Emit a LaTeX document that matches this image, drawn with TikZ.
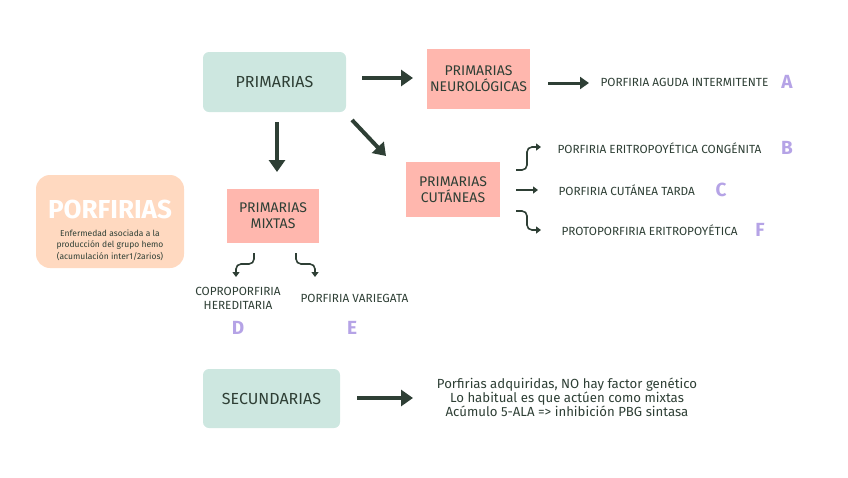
\documentclass[tikz,border=0pt]{standalone}
\usepackage{fontspec}
\setmainfont{Fira Sans}
\usetikzlibrary{arrows.meta}
\definecolor{teal}{HTML}{CDE7E0}
\definecolor{pinkbox}{HTML}{FFB7AE}
\definecolor{peach}{HTML}{FFD9C0}
\definecolor{ink}{HTML}{2E3F35}
\definecolor{lila}{HTML}{B5A3E6}
\tikzset{
  tealbox/.style={fill=teal, rounded corners=6pt, minimum width=143pt, minimum height=60pt, text=ink, font=\fontsize{16}{18}\selectfont},
  pinkbox/.style={fill=pinkbox, text=ink, align=center, font=\fontsize{14}{16}\selectfont},
  bigarrow/.style={draw=ink, line width=4pt, -{Triangle[length=12pt,width=16pt]}},
  smallarrow/.style={draw=ink, line width=1.6pt, rounded corners=5pt, -{Triangle[length=5pt,width=7pt]}},
  lab/.style={text=ink, font=\fontsize{11.8}{14}\selectfont, align=center},
  letter/.style={text=lila, font=\fontsize{19}{21}\selectfont\bfseries},
}
\begin{document}
\begin{tikzpicture}[x=1pt,y=-1pt]
\useasboundingbox (0,0) rectangle (848,477);
% boxes
\node[tealbox] (prim) at (274.5,82) {PRIMARIAS};
\node[pinkbox, minimum width=103pt, minimum height=60pt] (neuro) at (478.5,79) {PRIMARIAS\\NEUROLÓGICAS};
\node[pinkbox, minimum width=94pt, minimum height=55pt] (cut) at (453,189.5) {PRIMARIAS\\CUTÁNEAS};
\node[pinkbox, minimum width=92pt, minimum height=54pt] (mix) at (273,216) {PRIMARIAS\\MIXTAS};
\node[tealbox, minimum width=137pt, minimum height=59pt] (sec) at (271.5,398.5) {SECUNDARIAS};
\node[fill=peach, rounded corners=14pt, minimum width=148pt, minimum height=93pt] (porf) at (110,221.5) {};
\node[text=white, font=\fontsize{26}{28}\selectfont\bfseries] (porft) at (110,209) {PORFIRIAS};
\node[text=ink, font=\fontsize{8.5}{11.5}\selectfont, align=center] (porfs) at (110,245) {Enfermedad asociada a la\\producción del grupo hemo\\(acumulación inter1/2arios)};
% labels
\node[lab, anchor=west] (aip) at (597,82) {PORFIRIA AGUDA INTERMITENTE};
\node[letter] (la) at (787,82) {A};
\node[lab, anchor=west] (pec) at (554,148) {PORFIRIA ERITROPOYÉTICA CONGÉNITA};
\node[letter] (lb) at (787,148) {B};
\node[lab, anchor=west] (pct) at (555,190) {PORFIRIA CUTÁNEA TARDA};
\node[letter] (lc) at (721,190) {C};
\node[lab, anchor=west] (ppe) at (558,230) {PROTOPORFIRIA ERITROPOYÉTICA};
\node[letter] (lf) at (760,230) {F};
\node[lab] (cph) at (238,298) {COPROPORFIRIA\\HEREDITARIA};
\node[lab, anchor=west] (pv) at (297,298) {PORFIRIA VARIEGATA};
\node[letter] (ld) at (238,328) {D};
\node[letter] (le) at (352,328) {E};
\node[text=ink, font=\fontsize{13.2}{14}\selectfont, align=center] (adq) at (567,397) {Porfirias adquiridas, NO hay factor genético\\Lo habitual es que actúen como mixtas\\Acúmulo 5-ALA => inhibición PBG sintasa};
% coordinates for arrows
\coordinate (a1s) at (362,78); \coordinate (a1e) at (413,78);
\coordinate (a2s) at (548,83); \coordinate (a2e) at (589,83);
\coordinate (a3s) at (352,120); \coordinate (a3e) at (386,156);
\coordinate (a4s) at (277,122); \coordinate (a4e) at (277,172);
\coordinate (a5s) at (357,398); \coordinate (a5e) at (413,398);
\draw[bigarrow] (a1s) -- (a1e);
\draw[bigarrow, line width=3pt, -{Triangle[length=9pt,width=12pt]}] (a2s) -- (a2e);
\draw[bigarrow] (a3s) -- (a3e);
\draw[bigarrow] (a4s) -- (a4e);
\draw[bigarrow] (a5s) -- (a5e);
% small arrows cutaneas
\coordinate (c1) at (516,170); \coordinate (c1e) at (541,147);
\coordinate (c2) at (516,190); \coordinate (c2e) at (538,190);
\coordinate (c3) at (516,211); \coordinate (c3e) at (541,230);
\draw[smallarrow] (c1) -- (527,170) -- (527,147) -- (c1e);
\draw[smallarrow] (c2) -- (c2e);
\draw[smallarrow] (c3) -- (527,211) -- (527,230) -- (c3e);
% small arrows mixtas
\coordinate (m1) at (254,253); \coordinate (m1e) at (236,277);
\coordinate (m2) at (296,253); \coordinate (m2e) at (315,277);
\draw[smallarrow] (m1) -- (254,264) -- (236,264) -- (m1e);
\draw[smallarrow] (m2) -- (296,264) -- (315,264) -- (m2e);
\end{tikzpicture}
\end{document}
